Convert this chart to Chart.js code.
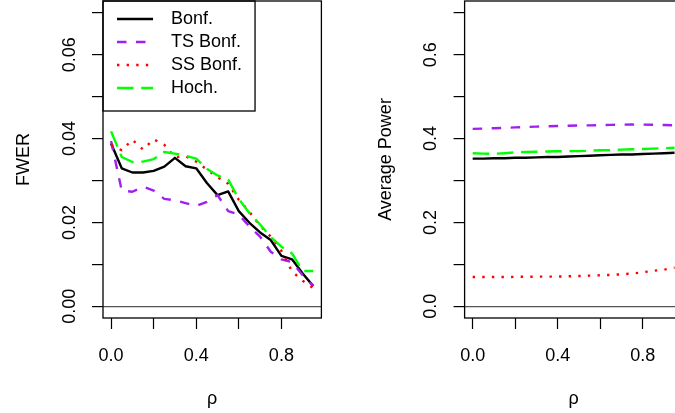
<!DOCTYPE html>
<html>
<head>
<meta charset="utf-8">
<script src="https://cdn.jsdelivr.net/npm/chart.js@4.4.0/dist/chart.umd.min.js"></script>
<style>
  html, body { margin: 0; padding: 0; background: #fff; overflow: hidden; }
  body { width: 675px; height: 413px; position: relative; }
  canvas { position: absolute; top: 0; }
  #fwerChart { left: 0; }
  #powerChart { left: 340px; }
</style>
</head>
<body>
<canvas id="fwerChart" width="340" height="413"></canvas>
<canvas id="powerChart" width="360" height="413"></canvas>
<script>
// x values (correlation rho)
const rho = [0, 0.05, 0.1, 0.15, 0.2, 0.25, 0.3, 0.35, 0.4, 0.45, 0.5, 0.55, 0.6, 0.65, 0.7, 0.75, 0.8, 0.85, 0.9, 0.95]

// left panel: FWER
const fwerBonf = [0.0388, 0.0329, 0.0319, 0.0319, 0.0323, 0.0333, 0.0354, 0.0334, 0.0329, 0.0294, 0.0265, 0.0274, 0.0227, 0.0199, 0.0176, 0.0158, 0.0120, 0.0112, 0.0078, 0.0048]
const fwerTs = [0.0394, 0.0276, 0.0273, 0.0285, 0.0276, 0.0256, 0.0253, 0.0246, 0.0239, 0.0249, 0.0265, 0.0227, 0.0219, 0.0190, 0.0166, 0.0130, 0.0112, 0.0105, 0.0074, 0.0048]
const fwerSs = [0.0385, 0.0372, 0.0397, 0.0374, 0.0398, 0.0385, 0.0355, 0.0358, 0.0345, 0.0326, 0.0308, 0.0292, 0.0254, 0.0225, 0.0192, 0.0166, 0.0132, 0.0083, 0.0061, 0.0043]
const fwerHoch = [0.0417, 0.0356, 0.0344, 0.0345, 0.0351, 0.0368, 0.0364, 0.0359, 0.0352, 0.0328, 0.0312, 0.0302, 0.0256, 0.0222, 0.0195, 0.0165, 0.0142, 0.0126, 0.0084, 0.0084]

// right panel: average power
const powBonf = [0.352, 0.352, 0.353, 0.353, 0.354, 0.354, 0.355, 0.356, 0.356, 0.357, 0.358, 0.359, 0.360, 0.361, 0.362, 0.362, 0.363, 0.364, 0.365, 0.366]
const powTs = [0.423, 0.4238, 0.4246, 0.4255, 0.4265, 0.4275, 0.4285, 0.429, 0.4298, 0.4305, 0.431, 0.4315, 0.432, 0.4325, 0.433, 0.4333, 0.4332, 0.4328, 0.4322, 0.4317]
const powSs = [0.0698, 0.0698, 0.0698, 0.0698, 0.0700, 0.0704, 0.0706, 0.0706, 0.0710, 0.0714, 0.0722, 0.0730, 0.0740, 0.0748, 0.0762, 0.0780, 0.0810, 0.0845, 0.0873, 0.0920]
const powHoch = [0.365, 0.364, 0.3635, 0.365, 0.367, 0.368, 0.3685, 0.369, 0.3695, 0.370, 0.370, 0.371, 0.372, 0.3725, 0.3735, 0.3745, 0.375, 0.376, 0.377, 0.378]

// ticks
const rhoTicks = [0, 0.2, 0.4, 0.6, 0.8]
const rhoTickLabels = ["0.0", "", "0.4", "", "0.8"]
const fwerTicks = [0, 0.01, 0.02, 0.03, 0.04, 0.05, 0.06, 0.07]
const fwerTickLabels = ["0.00", "", "0.02", "", "0.04", "", "0.06", ""]
const powerTicks = [0, 0.1, 0.2, 0.3, 0.4, 0.5, 0.6, 0.7]
const powerTickLabels = ["0.0", "", "0.2", "", "0.4", "", "0.6", ""]

const seriesNames = ["Bonf.", "TS Bonf.", "SS Bonf.", "Hoch."]

Chart.defaults.font.family = "'Liberation Sans', Arial, sans-serif"
Chart.defaults.font.size = 18
Chart.defaults.color = "#000"

const LW = 2.4
const styles = [
  { color: "#000000", dash: [] },
  { color: "#A020F0", dash: [9.5, 9.5] },
  { color: "#FF0000", dash: [2.4, 7.2] },
  { color: "#00FF00", dash: [16.5, 7.7] },
]

function makeDatasets(series) {
  return series.map((vals, i) => ({
    label: seriesNames[i],
    data: rho.map((x, j) => ({ x: x, y: vals[j] })),
    borderColor: styles[i].color,
    backgroundColor: styles[i].color,
    borderDash: styles[i].dash,
    borderWidth: LW,
    borderCapStyle: "butt",
    borderJoinStyle: "round",
    pointRadius: 0,
    tension: 0,
    fill: false,
    order: 4 - i, // later series drawn on top, like R lines()
  }))
}

// short line sample for the legend
function legendSwatch(color, dash) {
  const c = document.createElement("canvas")
  c.width = 54
  c.height = 8
  const g = c.getContext("2d")
  g.strokeStyle = color
  g.lineWidth = LW
  g.setLineDash(dash)
  g.beginPath()
  g.moveTo(9, 4)
  g.lineTo(45, 4)
  g.stroke()
  return c
}

function legendLabels(chart) {
  const items = Chart.defaults.plugins.legend.labels.generateLabels(chart)
  items.sort((a, b) => a.datasetIndex - b.datasetIndex)
  items.forEach((item) => {
    const st = styles[item.datasetIndex]
    item.pointStyle = legendSwatch(st.color, st.dash)
  })
  return items
}

// R style box around the plot region and the legend
const boxPlugin = {
  id: "rBox",
  afterDraw(chart) {
    const { ctx, chartArea: a } = chart
    ctx.save()
    ctx.strokeStyle = "#000"
    ctx.lineWidth = 1.3
    ctx.strokeRect(a.left, a.top, a.right - a.left, a.bottom - a.top)
    const lg = chart.legend
    if (chart.options.plugins.legend.display && lg && lg.legendHitBoxes && lg.legendHitBoxes.length) {
      const hb = lg.legendHitBoxes
      let right = 0
      hb.forEach((h) => { right = Math.max(right, h.left + h.width) })
      const last = hb[hb.length - 1]
      const bottom = last.top + last.height / 2 + 23
      ctx.strokeRect(a.left, a.top, right + 13 - a.left, bottom - a.top)
    }
    ctx.restore()
  },
}

function makePanel(id, cfg) {
  return new Chart(document.getElementById(id), {
    type: "line",
    data: { datasets: makeDatasets(cfg.series) },
    options: {
      responsive: false,
      animation: false,
      layout: { padding: { left: 0, top: 1, right: cfg.padRight, bottom: 0 } },
      plugins: {
        tooltip: { enabled: false },
        legend: {
          display: cfg.legend,
          position: "chartArea",
          align: "start",
          title: { display: true, text: "", padding: { top: 4, bottom: 0 }, font: { size: 1, lineHeight: 1 } },
          labels: {
            usePointStyle: true,
            pointStyleWidth: 54,
            padding: 5,
            color: "#000",
            font: { size: 18 },
            generateLabels: legendLabels,
          },
        },
      },
      scales: {
        x: {
          type: "linear",
          min: -0.038,
          max: 0.988,
          border: { display: false },
          grid: { drawOnChartArea: false, drawTicks: true, tickLength: 11, tickColor: "#000", tickWidth: 1.2 },
          afterBuildTicks: (s) => { s.ticks = rhoTicks.map((v) => ({ value: v })) },
          ticks: {
            autoSkip: false,
            maxRotation: 0,
            padding: 16,
            color: "#000",
            callback: (v, i) => rhoTickLabels[i],
          },
          title: { display: true, text: "ρ", color: "#000", font: { size: 18 }, padding: { top: 0, bottom: 3 } },
          afterFit: (s) => {
            s.height = 95
            s.paddingLeft = 0
            s.paddingRight = 0
          },
        },
        y: {
          type: "linear",
          min: cfg.yMin,
          max: cfg.yMax,
          border: { display: false },
          grid: {
            drawOnChartArea: true,
            drawTicks: true,
            tickLength: 11,
            tickColor: "#000",
            tickWidth: 1.2,
            lineWidth: 1.2,
            color: (c) => (c.tick && c.tick.value === 0 ? "#555555" : "rgba(0,0,0,0)"),
          },
          afterBuildTicks: (s) => { s.ticks = cfg.ticks.map((v) => ({ value: v })) },
          ticks: {
            autoSkip: false,
            minRotation: 90,
            maxRotation: 90,
            crossAlign: "center",
            padding: cfg.tickPad,
            color: "#000",
            callback: (v, i) => cfg.tickLabels[i],
          },
          title: { display: true, text: cfg.title, color: "#000", font: { size: 18 }, padding: { top: cfg.titlePad, bottom: 0 } },
          afterFit: (s) => {
            s.width = cfg.axisWidth
            s.paddingTop = 0
            s.paddingBottom = 0
          },
        },
      },
    },
    plugins: [boxPlugin],
  })
}

makePanel("fwerChart", {
  series: [fwerBonf, fwerTs, fwerSs, fwerHoch],
  yMin: -0.0028,
  yMax: 0.0728,
  ticks: fwerTicks,
  tickLabels: fwerTickLabels,
  title: "FWER",
  axisWidth: 103,
  padRight: 18.6,
  tickPad: 4.5,
  titlePad: 13.4,
  legend: true,
})

makePanel("powerChart", {
  series: [powBonf, powTs, powSs, powHoch],
  yMin: -0.028,
  yMax: 0.728,
  ticks: powerTicks,
  tickLabels: powerTickLabels,
  title: "Average Power",
  axisWidth: 124.6,
  padRight: 17.4,
  tickPad: 9.8,
  titlePad: 35,
  legend: false,
})
</script>
</body>
</html>
